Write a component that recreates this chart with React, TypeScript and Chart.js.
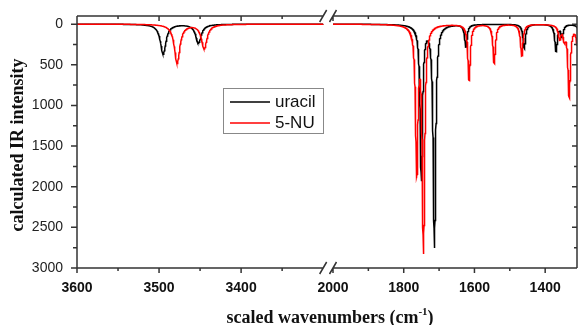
import React, { useEffect, useRef } from "react";
import { Chart, registerables } from "chart.js";

Chart.register(...registerables);

// ---- data (peak positions in cm-1, peak intensities) ----
const uracilPeakPositions = [3495, 3452, 1750, 1713, 1624, 1459, 1369, 1352, 1298];
const uracilPeakIntensities = [370, 232, 1900, 2730, 275, 300, 330, 140, 300];
const nuPeakPositions = [3478, 3445, 1763, 1744, 1615, 1544, 1466, 1359, 1346, 1332, 1305];
const nuPeakIntensities = [480, 300, 1780, 2750, 690, 480, 390, 165, 150, 880, 600];
const lineHalfWidth = 4; // Lorentzian half width used to broaden the peak list (cm-1)

// axis segments of the broken wavenumber axis
const leftSegment = [3600, 3300];
const rightSegment = [2000, 1310];
const leftMajorTicks = [3600, 3500, 3400];
const leftMinorTicks = [3550, 3450, 3350];
const rightMajorTicks = [2000, 1800, 1600, 1400];
const rightMinorTicks = [1900, 1700, 1500];
const yMajorTicks = [0, 500, 1000, 1500, 2000, 2500, 3000];
const yMinorTicks = [250, 750, 1250, 1750, 2250, 2750];
const seriesNames = ["uracil", "5-NU"];

function spectrum(positions: number[], intensities: number[], from: number, to: number, step: number) {
  const pts: { x: number; y: number }[] = [];
  for (let w = from; w >= to - 1e-9; w -= step) {
    let s = 0;
    for (let i = 0; i < positions.length; i++) {
      const d = (w - positions[i]) / lineHalfWidth;
      s += intensities[i] / (1 + d * d);
    }
    pts.push({ x: w, y: s });
  }
  return pts;
}

const SANS = '"Liberation Sans", Arial, sans-serif';
const SERIF = '"Liberation Serif", "Times New Roman", serif';

const framePlugin = {
  id: "frame",
  afterDraw(chart: any) {
    const { ctx, chartArea: a, scales } = chart;
    const x1 = scales.x1, x2 = scales.x2, y = scales.y;
    const bL = x1.getPixelForValue(leftSegment[1]);
    const bR = x2.getPixelForValue(rightSegment[0]);
    ctx.save();
    ctx.strokeStyle = "#333";
    ctx.lineWidth = 1.5;
    ctx.beginPath();
    ctx.moveTo(a.left, a.top); ctx.lineTo(a.left, a.bottom);
    ctx.moveTo(a.right, a.top); ctx.lineTo(a.right, a.bottom);
    for (const yy of [a.top, a.bottom]) {
      ctx.moveTo(a.left, yy); ctx.lineTo(bL, yy);
      ctx.moveTo(bR, yy); ctx.lineTo(a.right, yy);
      ctx.moveTo(bL - 3.5, yy + 6); ctx.lineTo(bL + 3.5, yy - 6);
      ctx.moveTo(bR - 3.5, yy + 6); ctx.lineTo(bR + 3.5, yy - 6);
    }
    const xt = (sc: any, vals: number[], len: number) => {
      for (const v of vals) {
        const px = sc.getPixelForValue(v);
        ctx.moveTo(px, a.bottom); ctx.lineTo(px, a.bottom + len);
        ctx.moveTo(px, a.top); ctx.lineTo(px, a.top + len);
      }
    };
    xt(x1, leftMajorTicks, 5); xt(x1, leftMinorTicks, 3);
    xt(x2, rightMajorTicks, 5); xt(x2, rightMinorTicks, 3);
    const yt = (vals: number[], len: number) => {
      for (const v of vals) {
        const py = y.getPixelForValue(v);
        ctx.moveTo(a.left, py); ctx.lineTo(a.left - len - 1, py);
        ctx.moveTo(a.right, py); ctx.lineTo(a.right - len, py);
      }
    };
    yt(yMajorTicks, 5); yt(yMinorTicks, 3);
    ctx.stroke();

    ctx.fillStyle = "#111";
    ctx.save();
    ctx.translate(18, 145);
    ctx.rotate(-Math.PI / 2);
    ctx.font = `bold 18px ${SERIF}`;
    ctx.textAlign = "center";
    ctx.textBaseline = "middle";
    ctx.fillText("calculated IR intensity", 0, 0);
    ctx.restore();

    const main = "scaled wavenumbers (cm";
    const sup = "-1";
    const close = ")";
    ctx.textBaseline = "alphabetic";
    ctx.textAlign = "left";
    ctx.font = `bold 18px ${SERIF}`;
    const wMain = ctx.measureText(main).width;
    const wClose = ctx.measureText(close).width;
    ctx.font = `bold 11px ${SERIF}`;
    const wSup = ctx.measureText(sup).width;
    let sx = 330 - (wMain + wSup + wClose) / 2;
    const base = 323;
    ctx.font = `bold 18px ${SERIF}`;
    ctx.fillText(main, sx, base);
    sx += wMain;
    ctx.font = `bold 11px ${SERIF}`;
    ctx.fillText(sup, sx, base - 8);
    sx += wSup;
    ctx.font = `bold 18px ${SERIF}`;
    ctx.fillText(close, sx, base);

    ctx.strokeStyle = "#888";
    ctx.lineWidth = 1;
    ctx.strokeRect(223.5, 88.5, 100, 45);
    const rows = [
      { name: seriesNames[0], color: "#000000", y: 102 },
      { name: seriesNames[1], color: "#ff0000", y: 123 },
    ];
    ctx.font = `17px ${SANS}`;
    ctx.textBaseline = "middle";
    for (const r of rows) {
      ctx.strokeStyle = r.color;
      ctx.lineWidth = 1.5;
      ctx.beginPath();
      ctx.moveTo(230, r.y); ctx.lineTo(270, r.y);
      ctx.stroke();
      ctx.fillStyle = "#111";
      ctx.fillText(r.name, 275, r.y);
    }
    ctx.restore();
  },
};

function zeroPad(s: any) {
  s.paddingTop = 0;
  s.paddingBottom = 0;
  s.paddingLeft = 0;
  s.paddingRight = 0;
}

export default function App() {
  const ref = useRef<HTMLCanvasElement>(null);
  useEffect(() => {
    const canvas = ref.current!;
    const mk = (label: string, pos: number[], inten: number[], seg: number[], step: number, axis: string, color: string, order: number) => ({
      label,
      data: spectrum(pos, inten, seg[0], seg[1], step),
      xAxisID: axis,
      yAxisID: "y",
      borderColor: color,
      backgroundColor: color,
      borderWidth: 1.5,
      pointRadius: 0,
      tension: 0,
      fill: false,
      order,
    });
    const xTicks = {
      autoSkip: false,
      maxRotation: 0,
      padding: 12,
      color: "#111",
      font: { family: SANS, size: 14, weight: "bold" as const },
      callback: (v: any) => String(v),
    };
    const chart = new Chart(canvas, {
      type: "line",
      data: {
        datasets: [
          mk(seriesNames[0], uracilPeakPositions, uracilPeakIntensities, leftSegment, 0.5, "x1", "#000000", 2),
          mk(seriesNames[0], uracilPeakPositions, uracilPeakIntensities, rightSegment, 0.25, "x2", "#000000", 2),
          mk(seriesNames[1], nuPeakPositions, nuPeakIntensities, leftSegment, 0.5, "x1", "#ff0000", 1),
          mk(seriesNames[1], nuPeakPositions, nuPeakIntensities, rightSegment, 0.25, "x2", "#ff0000", 1),
        ],
      },
      options: {
        responsive: false,
        animation: false,
        devicePixelRatio: 1,
        layout: { padding: { top: 16, right: 1, left: 0, bottom: 0 } },
        plugins: { legend: { display: false }, tooltip: { enabled: false } },
        scales: {
          x1: {
            type: "linear",
            position: "bottom",
            stack: "xs",
            stackWeight: 256,
            min: 3288,
            max: 3600,
            reverse: true,
            grid: { display: false, drawTicks: false },
            border: { display: false },
            afterBuildTicks: (s: any) => { s.ticks = leftMajorTicks.map((v) => ({ value: v })); },
            afterFit: (s: any) => { s.height = 57; zeroPad(s); },
            ticks: xTicks,
          },
          x2: {
            type: "linear",
            position: "bottom",
            stack: "xs",
            stackWeight: 244,
            min: 1310,
            max: 2000,
            reverse: true,
            grid: { display: false, drawTicks: false },
            border: { display: false },
            afterBuildTicks: (s: any) => { s.ticks = rightMajorTicks.map((v) => ({ value: v })); },
            afterFit: (s: any) => { s.height = 57; zeroPad(s); },
            ticks: xTicks,
          },
          y: {
            type: "linear",
            position: "left",
            reverse: true,
            min: -100,
            max: 3000,
            grid: { display: false, drawTicks: false },
            border: { display: false },
            afterBuildTicks: (s: any) => { s.ticks = yMajorTicks.map((v) => ({ value: v })); },
            afterFit: (s: any) => { s.width = 77; zeroPad(s); },
            ticks: {
              autoSkip: false,
              padding: 14,
              color: "#222",
              font: { family: SANS, size: 14 },
              callback: (v: any) => String(v),
            },
          },
        },
      } as any,
      plugins: [framePlugin],
    });
    return () => chart.destroy();
  }, []);
  return (
    <div style={{ position: "fixed", left: 0, top: 0, width: 578, height: 325, background: "#fff" }}>
      <canvas ref={ref} width={578} height={325} style={{ display: "block", width: 578, height: 325 }} />
    </div>
  );
}
